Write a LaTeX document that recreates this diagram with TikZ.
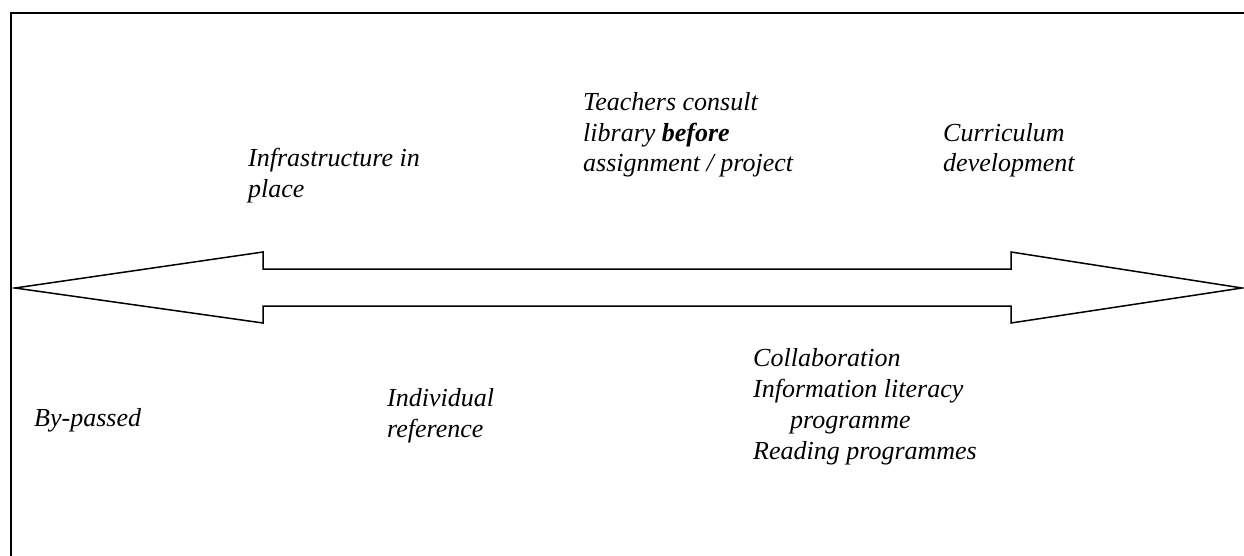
\documentclass[tikz,border=0pt]{standalone}
\usepackage{fontspec}
\setmainfont{Liberation Serif}
\begin{document}
\begin{tikzpicture}[x=1pt,y=-1pt,
  lbl/.style={anchor=base west,inner sep=0pt,font=\fontsize{26}{30.8}\selectfont\itshape,align=left},
  frameline/.style={line width=2pt},
  arrowshape/.style={line width=1.5pt,line join=miter}]
\useasboundingbox (0,0) rectangle (1244,556);
\draw[frameline] (11,556) -- (11,13) -- (1244,13);
\draw[arrowshape] (15,288) -- (263,252) -- (263,269) -- (1011,269) -- (1011,252) -- (1242,288) -- (1011,323) -- (1011,306) -- (263,306) -- (263,323) -- cycle;
\node[lbl] (infra) at (248,197) {Infrastructure in\\place};
\node[lbl] (teach) at (583,172) {Teachers consult\\library \textbf{before}\\assignment / project};
\node[lbl] (curr) at (943,172) {Curriculum\\development};
\node[lbl] (byp) at (34,426) {By-passed};
\node[lbl] (indiv) at (387,437) {Individual\\reference};
\node[lbl] (collab) at (753,459) {Collaboration\\Information literacy\\\hspace*{37pt}programme\\Reading programmes};
\end{tikzpicture}
\end{document}
